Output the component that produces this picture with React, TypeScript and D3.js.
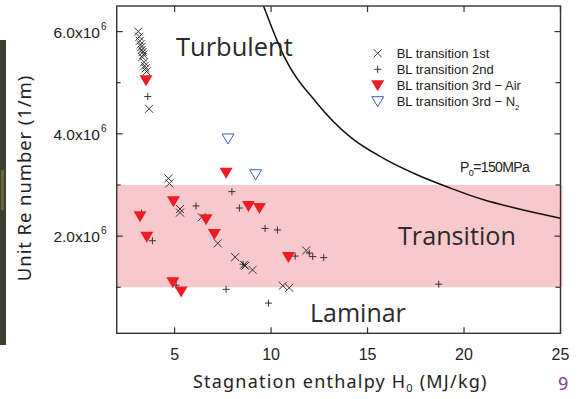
import React from "react";
import * as d3 from "d3";

// ---------- data (H0 in MJ/kg, Re in 1/m) ----------
const firstH = [3.12, 3.17, 3.2, 3.25, 3.28, 3.3, 3.35, 3.38, 3.33, 3.42, 3.45, 3.5, 3.55, 3.68, 4.68, 4.73, 5.28, 5.28, 6.41, 7.24, 8.14, 8.6, 8.66, 9.04, 10.61, 10.94, 11.82];
const firstRe = [6.0, 5.9, 5.82, 5.75, 5.7, 5.64, 5.6, 5.55, 5.5, 5.4, 5.33, 5.28, 5.22, 4.49, 3.13, 3.03, 2.53, 2.46, 2.37, 1.86, 1.59, 1.44, 1.42, 1.34, 1.03, 0.99, 1.72];

const secondH = [3.61, 7.97, 6.11, 8.36, 3.28, 9.69, 10.33, 3.85, 11.25, 11.98, 12.16, 12.73, 5.08, 7.67, 9.87, 18.69, 8.55];
const secondRe = [4.73, 2.87, 2.59, 2.55, 2.45, 2.15, 2.12, 1.91, 1.61, 1.67, 1.6, 1.58, 1.04, 0.96, 0.69, 1.06, 1.45];

const airH = [3.52, 7.67, 4.94, 8.83, 9.4, 3.21, 6.63, 7.06, 3.56, 10.9, 4.91, 5.34];
const airRe = [5.04, 3.23, 2.67, 2.58, 2.54, 2.38, 2.32, 2.03, 1.98, 1.58, 1.09, 0.91];

const n2H = [7.77, 9.2];
const n2Re = [3.9, 3.2];

const curveH = [9.61, 10.64, 12.38, 14.1, 15.83, 17.56, 19.29, 21.02, 22.75, 25.0];
const curveRe = [6.5, 5.54, 4.6, 3.94, 3.52, 3.2, 2.94, 2.71, 2.54, 2.35];

const bandRe = [1.0, 3.0];
const xTicks = [5, 10, 15, 20, 25];
const yMajor = [2, 4, 6];
const yMinor = [1, 3, 5];
const legendLabels = ["BL transition 1st", "BL transition 2nd", "BL transition 3rd \u2212 Air", "BL transition 3rd \u2212 N"];

const SCALE = 1e6;

export default function App() {
  const W = 578, H = 399;
  const L = 116.7, R = 560.5, T = 6, B = 333.3;
  const x = d3.scaleLinear().domain([2, 25]).range([L, R]);
  const y = d3.scaleLinear().domain([0.1 * SCALE, 6.5 * SCALE]).range([B, T]);
  const Y = (v: number) => y(v * SCALE);

  const line = d3.line<number>()
    .x((_, i) => x(curveH[i]))
    .y((_, i) => Y(curveRe[i]))
    .curve(d3.curveMonotoneX);

  const tri = (cx: number, cy: number, w: number, h: number) =>
    `M${cx - w / 2},${cy - h / 2}L${cx + w / 2},${cy - h / 2}L${cx},${cy + h / 2}Z`;

  const cross = (cx: number, cy: number, s: number) =>
    `M${cx - s},${cy - s}L${cx + s},${cy + s}M${cx - s},${cy + s}L${cx + s},${cy - s}`;
  const plus = (cx: number, cy: number, s: number) =>
    `M${cx - s},${cy}L${cx + s},${cy}M${cx},${cy - s}L${cx},${cy + s}`;

  const axisCol = "#333";
  const tickFont = "'Liberation Sans', Arial, sans-serif";
  const labelFont = "'Noto Sans', sans-serif";
  const regionFont = "'Open Sans', sans-serif";

  const lx = 377.7, tx = 396.7;
  const rows = [53.3, 69.3, 85.7, 101.7];

  return (
    <svg width={W} height={H} style={{ position: "absolute", left: 0, top: 0, background: "#fff" }}>
      {/* dark strip at left edge */}
      <rect x={0} y={40} width={6} height={305} fill="#3d3f30" />
      <rect x={1} y={170} width={3} height={40} fill="#8a8040" opacity={0.6} />

      {/* transition band */}
      <rect x={L} y={Y(bandRe[1])} width={R - L + 2} height={Y(bandRe[0]) - Y(bandRe[1])} fill="#f8c9cc" />

      {/* curve */}
      <clipPath id="clip"><rect x={L} y={T} width={R - L} height={B - T} /></clipPath>
      <path d={line(curveH) || ""} fill="none" stroke="#111" strokeWidth={1.5} clipPath="url(#clip)" />

      {/* region labels */}
      <text x={176} y={56} fontFamily={regionFont} fontSize={25.5} fill="#2a2a2a">Turbulent</text>
      <text x={398} y={245} fontFamily={regionFont} fontSize={25.2} fill="#2a2a2a">Transition</text>
      <text x={310} y={322} fontFamily={regionFont} fontSize={25} fill="#2a2a2a">Laminar</text>

      {/* markers: 2nd (+) */}
      {secondH.map((h, i) => (
        <path key={"p" + i} d={plus(x(h), Y(secondRe[i]), 3.5)} stroke="#222" strokeWidth={0.9} fill="none" />
      ))}
      {/* markers: 1st (x) */}
      {firstH.map((h, i) => (
        <path key={"x" + i} d={cross(x(h), Y(firstRe[i]), 4)} stroke="#222" strokeWidth={0.9} fill="none" />
      ))}
      {/* markers: 3rd Air */}
      {airH.map((h, i) => (
        <path key={"a" + i} d={tri(x(h), Y(airRe[i]), 13, 11)} fill="#ee1c24" />
      ))}
      {/* markers: 3rd N2 */}
      {n2H.map((h, i) => (
        <path key={"n" + i} d={tri(x(h), Y(n2Re[i]), 12, 10)} fill="none" stroke="#3a5cc0" strokeWidth={1} />
      ))}

      {/* frame */}
      <rect x={L} y={T} width={R - L} height={B - T} fill="none" stroke={axisCol} strokeWidth={1.4} />

      {/* x ticks (inward, bottom and top) */}
      {xTicks.map((t) => (
        <g key={"xt" + t}>
          <line x1={x(t)} x2={x(t)} y1={B} y2={B - 6} stroke={axisCol} strokeWidth={1.2} />
          <line x1={x(t)} x2={x(t)} y1={T} y2={T + 6} stroke={axisCol} strokeWidth={1.2} />
          <text x={x(t)} y={360} textAnchor="middle" fontFamily={tickFont} fontSize={16} fill="#222">{t}</text>
        </g>
      ))}
      {/* y ticks */}
      {yMajor.map((t) => (
        <g key={"yt" + t}>
          <line x1={L} x2={L + 6} y1={Y(t)} y2={Y(t)} stroke={axisCol} strokeWidth={1.2} />
          <line x1={R} x2={R - 6} y1={Y(t)} y2={Y(t)} stroke={axisCol} strokeWidth={1.2} />
          <text x={100} y={Y(t) + 6} textAnchor="end" fontFamily={tickFont} fontSize={15.5} fill="#222">{t.toFixed(1)}x10</text>
          <text x={101} y={Y(t) - 2} fontFamily={tickFont} fontSize={10} fill="#222">6</text>
        </g>
      ))}
      {yMinor.map((t) => (
        <g key={"ym" + t}>
          <line x1={L} x2={L + 4} y1={Y(t)} y2={Y(t)} stroke={axisCol} strokeWidth={1.2} />
          <line x1={R} x2={R - 5} y1={Y(t)} y2={Y(t)} stroke={axisCol} strokeWidth={1.2} />
        </g>
      ))}

      {/* axis labels */}
      <text x={193} y={388} fontFamily={labelFont} fontSize={18} letterSpacing={1.2} fill="#222">
        Stagnation enthalpy H<tspan fontSize={11} dy={4}>0</tspan><tspan dy={-4}> (MJ/kg)</tspan>
      </text>
      <text transform="translate(31,178) rotate(-90)" textAnchor="middle" fontFamily={labelFont} fontSize={18.5} letterSpacing={0.9} fill="#222">
        Unit Re number (1/m)
      </text>

      {/* legend */}
      <path d={cross(lx, rows[0], 4)} stroke="#222" strokeWidth={0.9} fill="none" />
      <path d={plus(lx, rows[1], 3.5)} stroke="#222" strokeWidth={0.9} fill="none" />
      <path d={tri(lx, rows[2], 13, 11)} fill="#ee1c24" />
      <path d={tri(lx, rows[3], 12, 10)} fill="none" stroke="#3a5cc0" strokeWidth={1} />
      {legendLabels.map((s, i) => (
        <text key={"lg" + i} x={tx} y={rows[i] + 4.5} fontFamily={tickFont} fontSize={13} fill="#222">
          {s}{i === 3 ? <tspan fontSize={8} dy={4}>2</tspan> : null}
        </text>
      ))}

      {/* curve label */}
      <text x={460} y={172} fontFamily={tickFont} fontSize={14} fill="#222" letterSpacing={-0.6}>
        P<tspan fontSize={9} dy={4}>0</tspan><tspan dy={-4}>=150MPa</tspan>
      </text>

      {/* page number */}
      <text x={558} y={390} fontFamily={labelFont} fontSize={18} fill="#7b3f8f">9</text>
    </svg>
  );
}
